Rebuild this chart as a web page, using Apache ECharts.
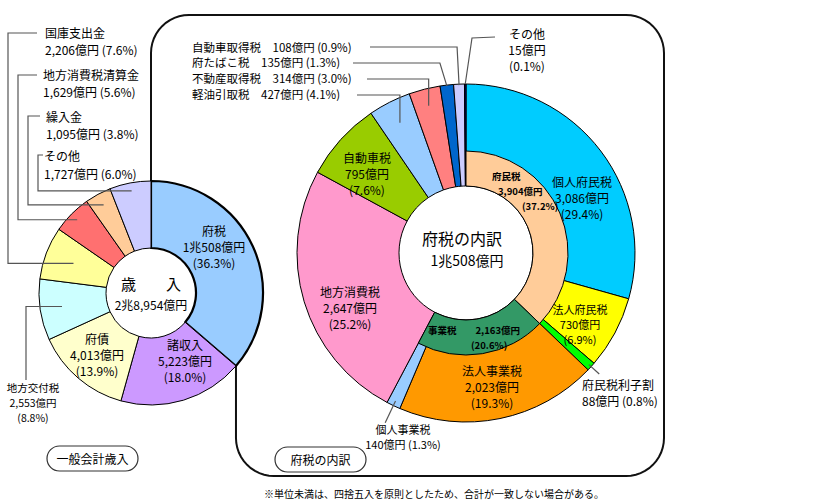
<!DOCTYPE html>
<html lang="ja">
<head>
<meta charset="UTF-8">
<title>一般会計歳入と府税の内訳</title>
<script src="https://cdn.jsdelivr.net/npm/echarts@6/dist/echarts.min.js"></script>
<style>
  html, body { margin: 0; padding: 0; background: #fff; }
  #chart { width: 819px; height: 504px; }
</style>
</head>
<body>
<div id="chart"></div>
<script>
// 一般会計歳入（億円）
const revNames = ['府税', '諸収入', '府債', '地方交付税', '国庫支出金', '地方消費税清算金', '繰入金', 'その他'];
const revValues = [10508, 5223, 4013, 2553, 2206, 1629, 1095, 1727];
const revPct = [36.3, 18.0, 13.9, 8.8, 7.6, 5.6, 3.8, 6.0];

// 府税の内訳（外側）
const taxNames = ['個人府民税', '法人府民税', '府民税利子割', '法人事業税', '個人事業税', '地方消費税',
  '自動車税', '軽油引取税', '不動産取得税', '府たばこ税', '自動車取得税', 'その他'];
const taxValues = [3086, 730, 88, 2023, 140, 2647, 795, 427, 314, 135, 108, 15];
const taxPct = [29.4, 6.9, 0.8, 19.3, 1.3, 25.2, 7.6, 4.1, 3.0, 1.3, 0.9, 0.1];

// 府税の内訳（内側）
const groupNames = ['府民税', '事業税'];
const groupValues = [3904, 2163];
const groupPct = [37.2, 20.6];

// 色
const revColors = ['#99ccff', '#cc99ff', '#ffffcc', '#ccffff', '#ffff99', '#ff7070', '#ffcc99', '#ccccff'];
const taxColors = ['#00ccff', '#ffff00', '#00ff00', '#ff9900', '#99ccff', '#ff99cc',
  '#99cc00', '#99ccff', '#ff8080', '#0066cc', '#ccccff', '#000080'];
const groupColors = ['#ffcc99', '#339966'];

const JP = '"Noto Sans CJK JP", "Noto Sans", sans-serif';
const LC = [151, 293], LR = [45, 112];
const RC = [466, 253], RR = [67, 169], RI = 102;

// ラベル位置 (x, y は文字ブロックの中心 / 左端)
const revLabelPos = [
  { x: 214, y: 246, fs: 12, lh: 16 },
  { x: 185, y: 360, fs: 12, lh: 16 },
  { x: 97, y: 354, fs: 12, lh: 16 },
  { x: 33, y: 402, fs: 10.5, lh: 15 },
  { x: 45, y: 41, fs: 12, lh: 17, align: 'left' },
  { x: 43, y: 83, fs: 12, lh: 17, align: 'left' },
  { x: 46, y: 125, fs: 12, lh: 17, align: 'left' },
  { x: 44, y: 164, fs: 12, lh: 18, align: 'left' }
];
const taxLabelPos = [
  { x: 582, y: 197, fs: 12, lh: 16 },
  { x: 580, y: 324, fs: 11, lh: 15 },
  { x: 582, y: 392, fs: 12, lh: 16, align: 'left' },
  { x: 492, y: 386, fs: 12, lh: 16 },
  { x: 403, y: 436, fs: 11, lh: 15 },
  { x: 350, y: 307, fs: 12, lh: 16 },
  { x: 367, y: 173, fs: 12, lh: 16 },
  { x: 192, y: 94, fs: 11.5, lh: 14, align: 'left' },
  { x: 192, y: 78, fs: 11.5, lh: 14, align: 'left' },
  { x: 192, y: 62, fs: 11.5, lh: 14, align: 'left' },
  { x: 192, y: 47, fs: 11.5, lh: 14, align: 'left' },
  { x: 527, y: 49, fs: 12, lh: 16 }
];
const groupLabelPos = [
  { x: 492, y: 191, align: 'left' },
  { x: 428, y: 337, align: 'left' }
];

function sum(a) { return a.reduce((s, v) => s + v, 0); }
function oku(v) {
  if (v >= 10000) return Math.floor(v / 10000) + '兆' + (v % 10000).toLocaleString('ja-JP') + '億円';
  return v.toLocaleString('ja-JP') + '億円';
}
function pct(p) { return '(' + p.toFixed(1) + '%)'; }
// 12時から時計回りの角度
function angleAt(values, upto) {
  let c = 0;
  for (let k = 0; k < Math.floor(upto); k++) c += values[k];
  if (upto % 1) c += values[Math.floor(upto)] * (upto % 1);
  return c / sum(values) * Math.PI * 2;
}
function polar(c, r, a) { return [c[0] + r * Math.sin(a), c[1] - r * Math.cos(a)]; }

function revLabel(i) {
  if (i <= 3) return revNames[i] + '\n' + oku(revValues[i]) + '\n' + pct(revPct[i]);
  return revNames[i] + '\n' + oku(revValues[i]) + ' ' + pct(revPct[i]);
}
function taxLabel(i) {
  if (i >= 7 && i <= 10) return taxNames[i] + '　' + oku(taxValues[i]) + ' ' + pct(taxPct[i]);
  if (i === 2 || i === 4) return taxNames[i] + '\n' + oku(taxValues[i]) + ' ' + pct(taxPct[i]);
  return taxNames[i] + '\n' + oku(taxValues[i]) + '\n' + pct(taxPct[i]);
}
function groupLabel(i) {
  if (i === 0) return '{a|' + groupNames[0] + '}\n{b|' + oku(groupValues[0]) + '}\n{c|' + pct(groupPct[0]) + '}';
  return '{a|' + groupNames[1] + '　　' + oku(groupValues[1]) + '}\n{d|' + pct(groupPct[1]) + '}';
}

function layoutFrom(table) {
  return function (p) {
    const pos = table[p.dataIndex];
    if (!pos) return {};
    return { x: pos.x, y: pos.y, align: pos.align || 'center', verticalAlign: 'middle' };
  };
}

// 引出線
function leader(points) {
  return { type: 'polyline', z: 100, silent: true, shape: { points: points },
    style: { stroke: '#555', lineWidth: 1.2, fill: null } };
}
function revAnchor(i, r) { return polar(LC, r, angleAt(revValues, i + 0.5)); }
function taxAnchor(i, r) { return polar(RC, r, angleAt(taxValues, i + 0.5)); }

const leaders = [];
let a;
a = revAnchor(3, 90); leaders.push(leader([a, [26, a[1]], [26, 380]]));
a = revAnchor(4, 83); leaders.push(leader([a, [8, a[1]], [8, 33], [37, 33]]));
a = revAnchor(5, 104); leaders.push(leader([a, [18, a[1]], [18, 75], [37, 75]]));
a = revAnchor(6, 100); leaders.push(leader([a, [28, a[1]], [28, 116], [40, 116]]));
a = revAnchor(7, 104); leaders.push(leader([a, [38, a[1]], [38, 155], [43, 155]]));
a = taxAnchor(7, 146); leaders.push(leader([[357, 95], [a[0], 95], a]));
a = taxAnchor(8, 152); leaders.push(leader([[367, 79], [a[0], 79], a]));
a = taxAnchor(9, 168); leaders.push(leader([[353, 63], [a[0] - 7, 63], a]));
a = taxAnchor(10, 168); leaders.push(leader([[370, 47], [a[0] - 2, 47], a]));
a = taxAnchor(11, 169); leaders.push(leader([[495, 37], [472, 38], a]));
leaders.push(leader([taxAnchor(2, 166), taxAnchor(2, 180)]));
leaders.push(leader([taxAnchor(4, 164), taxAnchor(4, 188)]));

// 府税の内訳の枠（府税の扇形から伸びる）
const boxJoin = polar(LC, LR[1], angleAt(revValues, 1));
const CR = 38;
function corner(cx, cy, a0, a1) {
  const pts = [];
  for (let k = 0; k <= 12; k++) {
    const t = (a0 + (a1 - a0) * k / 12) * Math.PI / 180;
    pts.push([cx + CR * Math.cos(t), cy + CR * Math.sin(t)]);
  }
  return pts;
}
const boxPoints = [[LC[0], LC[1] - LR[1]]]
  .concat(corner(LC[0] + CR, 15 + CR, 180, 270))
  .concat(corner(664 - CR, 15 + CR, 270, 360))
  .concat(corner(664 - CR, 476 - CR, 0, 90))
  .concat(corner(boxJoin[0] + CR, 476 - CR, 90, 180))
  .concat([boxJoin]);

function centerText(x, y, text, size) {
  return { type: 'text', z: 100, silent: true, x: x, y: y,
    style: { text: text, fill: '#000', align: 'center', verticalAlign: 'middle', fontSize: size, fontFamily: JP } };
}
function button(x, y, w, h, text) {
  return [
    { type: 'rect', z: 100, silent: true, shape: { x: x, y: y, width: w, height: h, r: h / 2 },
      style: { fill: '#fff', stroke: '#333', lineWidth: 1.2 } },
    centerText(x + w / 2, y + h / 2, text, 12)
  ];
}

const chart = echarts.init(document.getElementById('chart'), null, { renderer: 'svg' });
chart.setOption({
  backgroundColor: '#fff',
  animation: false,
  series: [
    {
      type: 'pie', name: '一般会計歳入', center: LC, radius: LR, startAngle: 90, clockwise: true,
      avoidLabelOverlap: false, silent: true, z: 2,
      itemStyle: { borderColor: '#000', borderWidth: 1 },
      label: { show: true, position: 'inside', color: '#000', fontFamily: JP, overflow: 'none',
        formatter: p => revLabel(p.dataIndex) },
      labelLine: { show: false },
      labelLayout: layoutFrom(revLabelPos),
      data: revNames.map((n, i) => ({
        name: n, value: revValues[i],
        itemStyle: { color: revColors[i], borderWidth: i === 0 ? 2.2 : 1 },
        label: { fontSize: revLabelPos[i].fs, lineHeight: revLabelPos[i].lh }
      }))
    },
    {
      type: 'pie', name: '府税の内訳', center: RC, radius: RR, startAngle: 90, clockwise: true,
      avoidLabelOverlap: false, silent: true, z: 2,
      itemStyle: { borderColor: '#000', borderWidth: 1 },
      label: { show: true, position: 'inside', color: '#000', fontFamily: JP, overflow: 'none',
        formatter: p => taxLabel(p.dataIndex) },
      labelLine: { show: false },
      labelLayout: layoutFrom(taxLabelPos),
      data: taxNames.map((n, i) => ({
        name: n, value: taxValues[i],
        itemStyle: { color: taxColors[i] },
        label: { fontSize: taxLabelPos[i].fs, lineHeight: taxLabelPos[i].lh }
      }))
    },
    {
      type: 'pie', name: '府税（内側）', center: RC, radius: [RR[0], RI], startAngle: 90, clockwise: true,
      avoidLabelOverlap: false, silent: true, z: 3,
      itemStyle: { borderColor: '#000', borderWidth: 1 },
      label: { show: true, position: 'inside', color: '#000', fontFamily: JP, fontSize: 9.5,
        fontWeight: 'bold', lineHeight: 15, overflow: 'none',
        formatter: p => groupLabel(p.dataIndex),
        rich: {
          a: { fontSize: 9.5, fontWeight: 'bold', fontFamily: JP },
          b: { fontSize: 9.5, fontWeight: 'bold', fontFamily: JP, padding: [0, 0, 0, 6] },
          c: { fontSize: 9.5, fontWeight: 'bold', fontFamily: JP, padding: [0, 0, 0, 30] },
          d: { fontSize: 9.5, fontWeight: 'bold', fontFamily: JP, padding: [0, 0, 0, 43] }
        } },
      labelLine: { show: false },
      labelLayout: layoutFrom(groupLabelPos),
      data: groupNames.map((n, i) => ({
        name: n, value: groupValues[i], itemStyle: { color: groupColors[i] }
      })).concat([{
        name: 'rest', value: sum(taxValues) - sum(groupValues),
        itemStyle: { color: 'rgba(0,0,0,0)', borderWidth: 0 }, label: { show: false }
      }])
    }
  ],
  graphic: [
    { type: 'polyline', z: 1, silent: true, shape: { points: boxPoints },
      style: { fill: null, stroke: '#111', lineWidth: 2 } },
    centerText(LC[0], 283, '歳　　入', 15),
    centerText(LC[0], 304, oku(sum(revValues)), 12),
    centerText(462, 238, '府税の内訳', 16),
    centerText(467, 260, oku(sum(taxValues)), 14),
    ...button(47, 446, 91, 25, '一般会計歳入'),
    ...button(275, 447, 91, 25, '府税の内訳'),
    { type: 'text', z: 100, silent: true, x: 264, y: 493,
      style: { text: '※単位未満は、四捨五入を原則としたため、合計が一致しない場合がある。', fill: '#000',
        align: 'left', verticalAlign: 'middle', fontSize: 10, fontFamily: JP } },
    ...leaders
  ]
});
</script>
</body>
</html>
